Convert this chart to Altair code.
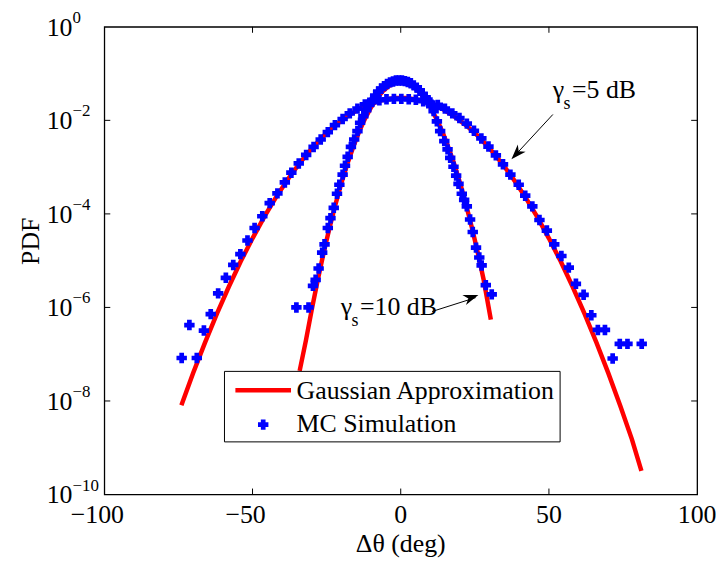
import altair as alt
import pandas as pd

# ---------------- data ----------------
gauss_5db_x = [-74, -70, -66, -62, -58, -54, -50, -46, -42, -38, -34, -30, -26, -22, -18, -14, -10, -6, -2,
               2, 6, 10, 14, 18, 22, 26, 30, 34, 38, 42, 46, 50, 54, 58, 62, 66, 70, 74, 78, 81.2]
gauss_5db_y = [8.1e-9, 4.0e-8, 1.79e-7, 7.4e-7, 2.77e-6, 9.6e-6, 3.0e-5, 8.7e-5, 2.31e-4, 5.6e-4,
               1.24e-3, 2.51e-3, 4.67e-3, 7.9e-3, 1.23e-2, 1.76e-2, 2.29e-2, 2.73e-2, 2.99e-2,
               2.99e-2, 2.73e-2, 2.29e-2, 1.76e-2, 1.23e-2, 7.9e-3, 4.67e-3, 2.51e-3, 1.24e-3, 5.6e-4,
               2.31e-4, 8.7e-5, 3.0e-5, 9.6e-6, 2.77e-6, 7.4e-7, 1.79e-7, 4.0e-8, 8.1e-9, 1.51e-9, 3.2e-10]

gauss_10db_x = [-34.1, -32, -30, -28, -26, -24, -22, -20, -18, -16, -14, -12, -10, -8, -6, -4, -2, 0,
                2, 4, 6, 8, 10, 12, 14, 16, 18, 20, 22, 24, 26, 28, 30.4]
gauss_10db_y = [4.4e-8, 1.95e-7, 9.1e-7, 3.86e-6, 1.48e-5, 5.1e-5, 1.61e-4, 4.6e-4, 1.18e-3, 2.74e-3,
                5.8e-3, 1.10e-2, 1.91e-2, 2.98e-2, 4.23e-2, 5.42e-2, 6.28e-2, 6.61e-2,
                6.28e-2, 5.42e-2, 4.23e-2, 2.98e-2, 1.91e-2, 1.10e-2, 5.8e-3, 2.74e-3, 1.18e-3, 4.6e-4,
                1.61e-4, 5.1e-5, 1.48e-5, 3.86e-6, 5.5e-7]

mc_5db_x = [-73.9, -71.3, -68.8, -66.4, -64.1, -61.6, -59.0, -56.5, -54.1, -51.7, -49.3, -46.7, -44.2,
            -41.6, -39.1, -36.9, -34.4, -31.9, -29.4, -27.0, -24.6, -22.2, -19.6, -17.2, -14.6, -12.1,
            -9.7, -7.2, -4.8, -2.3, 0.2, 2.7, 5.1, 7.6, 10.0, 12.5, 14.9, 17.4, 19.8, 22.3, 24.7, 27.2,
            29.6, 32.1, 34.5, 37.0, 39.8, 42.0, 44.4, 46.8, 49.3, 51.8, 54.2, 56.7, 59.1, 61.7, 64.3,
            66.5, 68.9, 71.5, 73.9, 76.5, 81.3]
mc_5db_y = [8.3e-8, 4.2e-7, 8.3e-8, 3.2e-7, 7.2e-7, 2.0e-6, 4.3e-6, 8.1e-6, 1.38e-5, 2.7e-5, 5.0e-5,
            8.9e-5, 1.70e-4, 2.75e-4, 4.7e-4, 7.6e-4, 1.20e-3, 1.82e-3, 2.7e-3, 3.9e-3, 5.6e-3, 7.9e-3,
            1.07e-2, 1.41e-2, 1.78e-2, 2.19e-2, 2.45e-2, 2.69e-2, 2.82e-2, 2.88e-2, 2.88e-2, 2.82e-2,
            2.75e-2, 2.57e-2, 2.40e-2, 2.14e-2, 1.78e-2, 1.41e-2, 1.12e-2, 8.5e-3, 6.0e-3, 4.1e-3,
            2.75e-3, 1.78e-3, 1.15e-3, 6.9e-4, 4.2e-4, 2.45e-4, 1.45e-4, 7.4e-5, 4.4e-5, 2.24e-5,
            1.26e-5, 7.1e-6, 3.2e-6, 1.86e-6, 6.8e-7, 3.3e-7, 3.3e-7, 8.1e-8, 1.66e-7, 1.66e-7, 1.66e-7]

mc_10db_x = [-35.2, -31.1, -29.6, -28.7, -27.7, -26.5, -25.7, -24.6, -23.7, -22.6, -21.5, -20.7, -19.6,
             -18.8, -17.9, -16.8, -15.7, -14.6, -13.7, -12.6, -11.6, -10.6, -9.6, -8.6, -7.6, -6.6,
             -5.6, -4.6, -3.6, -2.6, -1.6, -0.6, 0.4, 1.4, 2.4, 3.4, 4.4, 5.4, 6.4, 7.4, 8.4, 9.4, 10.3,
             11.1, 12.2, 13.3, 14.7, 15.8, 16.7, 17.8, 18.7, 19.5, 20.6, 21.4, 22.3, 23.4, 24.3, 25.4,
             26.5, 27.3, 28.7, 30.7]
mc_10db_y = [1.0e-6, 1.0e-6, 2.9e-6, 3.9e-6, 6.8e-6, 1.48e-5, 2.24e-5, 5.0e-5, 8.1e-5, 1.35e-4, 2.7e-4,
             4.2e-4, 6.9e-4, 1.07e-3, 1.66e-3, 2.7e-3, 3.9e-3, 5.9e-3, 8.9e-3, 1.23e-2, 1.66e-2,
             2.19e-2, 2.75e-2, 3.4e-2, 4.1e-2, 4.8e-2, 5.4e-2, 6.0e-2, 6.5e-2, 6.8e-2, 7.1e-2, 7.1e-2,
             7.1e-2, 6.9e-2, 6.6e-2, 6.2e-2, 5.6e-2, 5.0e-2, 4.4e-2, 3.7e-2, 3.1e-2, 2.5e-2, 2.0e-2,
             1.58e-2, 9.5e-3, 5.9e-3, 3.6e-3, 2.4e-3, 1.58e-3, 1.02e-3, 6.6e-4, 4.4e-4, 2.7e-4, 2.0e-4,
             1.45e-4, 7.6e-5, 4.1e-5, 1.9e-5, 1.17e-5, 7.9e-6, 3.0e-6, 1.9e-6]

x_tick_values = [-100, -50, 0, 50, 100]
x_tick_labels = ["\u2212100", "\u221250", "0", "50", "100"]
y_tick_values = [1, 1e-2, 1e-4, 1e-6, 1e-8, 1e-10]
y_tick_exponents = ["0", "\u22122", "\u22124", "\u22126", "\u22128", "\u221210"]

# ---------------- tables ----------------
curve_df = pd.concat([
    pd.DataFrame({"x": gauss_5db_x, "y": gauss_5db_y, "series": "5 dB", "i": range(len(gauss_5db_x))}),
    pd.DataFrame({"x": gauss_10db_x, "y": gauss_10db_y, "series": "10 dB", "i": range(len(gauss_10db_x))}),
])
mc_df = pd.concat([
    pd.DataFrame({"x": mc_5db_x, "y": mc_5db_y}),
    pd.DataFrame({"x": mc_10db_x, "y": mc_10db_y}),
])
xlab_df = pd.DataFrame({"v": x_tick_values, "label": x_tick_labels})
ylab_df = pd.DataFrame({"v": y_tick_values, "exp": y_tick_exponents})
one = pd.DataFrame({"k": [0]})

W, H = 597, 471
FS = 26
SERIF = "Liberation Serif, Times New Roman, serif"
xs = alt.Scale(domain=[-100, 100], nice=False, zero=False)
ys = alt.Scale(type="log", domain=[1e-10, 1], nice=False)
PLUS = "M-1,-0.45H-0.45V-1H0.45V-0.45H1V0.45H0.45V1H-0.45V0.45H-1Z"
ARROW = "M0,0L0.6,1.7L0,1.2L-0.6,1.7Z"

X = lambda f: alt.X(f, scale=xs, axis=None)
Y = lambda f: alt.Y(f, scale=ys, axis=None)

curves = alt.Chart(curve_df).mark_line(color="#FF0000", strokeWidth=4.5).encode(
    x=X("x:Q"), y=Y("y:Q"), detail="series:N", order=alt.Order("i:Q"))

points = alt.Chart(mc_df).mark_point(shape=PLUS, filled=True, size=110, color="#0000FF",
                                     opacity=1, strokeWidth=0).encode(x=X("x:Q"), y=Y("y:Q"))

inner_x = alt.Chart(xlab_df).transform_filter("abs(datum.v) < 100")
tick_xb = inner_x.mark_rule(color="black", strokeWidth=1).encode(
    x=X("v:Q"), y=alt.value(H), y2=alt.value(H - 6))
tick_xt = inner_x.mark_rule(color="black", strokeWidth=1).encode(
    x=X("v:Q"), y=alt.value(0), y2=alt.value(6))
inner_y = alt.Chart(ylab_df).transform_filter("datum.v < 0.5 && datum.v > 1e-9")
tick_yl = inner_y.mark_rule(color="black", strokeWidth=1).encode(
    y=Y("v:Q"), x=alt.value(0), x2=alt.value(6))
tick_yr = inner_y.mark_rule(color="black", strokeWidth=1).encode(
    y=Y("v:Q"), x=alt.value(W - 6), x2=alt.value(W))

# x tick labels: the number is centred on the tick, a leading minus sits to its left
xlabels_pos = alt.Chart(xlab_df).transform_filter("datum.v >= 0").mark_text(
    font=SERIF, fontSize=FS, baseline="alphabetic", align="center", color="black").encode(
    x=X("v:Q"), y=alt.value(H + 29), text="label:N")
xlabels_neg = alt.Chart(xlab_df).transform_filter("datum.v < 0").mark_text(
    font=SERIF, fontSize=FS, baseline="alphabetic", align="center", dx=-7, color="black").encode(
    x=X("v:Q"), y=alt.value(H + 29), text="label:N")
ylab10 = alt.Chart(ylab_df).mark_text(font=SERIF, fontSize=FS, baseline="alphabetic", align="left",
                                      dy=9, color="black", text="10").encode(
    x=alt.value(-58), y=Y("v:Q"))
ylabexp = alt.Chart(ylab_df).mark_text(font=SERIF, fontSize=17, baseline="alphabetic", align="left",
                                       dy=-4, color="black").encode(
    x=alt.value(-32), y=Y("v:Q"), text="exp:N")


def txt(s, x, y, size=FS, align="left", angle=0):
    return alt.Chart(one).mark_text(text=s, font=SERIF, fontSize=size, baseline="alphabetic",
                                    align=align, angle=angle, color="black").encode(
        x=alt.value(x), y=alt.value(y))


def rule(x1, y1, x2, y2, color="black", width=1):
    return alt.Chart(one).mark_rule(color=color, strokeWidth=width).encode(
        x=alt.value(x1), y=alt.value(y1), x2=alt.value(x2), y2=alt.value(y2))


def head(x, y, angle):
    return alt.Chart(one).mark_point(shape=ARROW, filled=True, size=320, color="black", opacity=1,
                                     strokeWidth=0, angle=angle).encode(x=alt.value(x), y=alt.value(y))


annotations = [
    txt("\u03b3", 451.7, 72), txt("s", 462.5, 83, size=18), txt("=5 dB", 471, 72),
    rule(451.7, 88.3, 412, 131.2), head(410, 133.3, 222.8),
    txt("\u03b3", 238, 290), txt("s", 249, 301, size=18), txt("=10 dB", 257.5, 290),
    rule(330, 286.7, 374, 272.7), head(376.7, 270, 70.3),
]

legend = [
    alt.Chart(one).mark_rect(fill="white", stroke="black", strokeWidth=1).encode(
        x=alt.value(121), x2=alt.value(459), y=alt.value(347), y2=alt.value(418)),
    rule(132, 366, 188, 366, color="#FF0000", width=4.5),
    alt.Chart(one).mark_point(shape=PLUS, filled=True, size=110, color="#0000FF", opacity=1,
                              strokeWidth=0).encode(x=alt.value(160), y=alt.value(400.6)),
    txt("Gaussian Approximation", 193.6, 374.7),
    txt("MC Simulation", 193.6, 408.4),
]

titles = [
    txt("\u0394\u03b8 (deg)", W / 2, 529, align="center"),
    txt("PDF", -66, 216, align="center", angle=270),
]

chart = alt.layer(
    curves, points, tick_xb, tick_xt, tick_yl, tick_yr, xlabels_pos, xlabels_neg, ylab10, ylabexp,
    *annotations, *legend, *titles
).properties(
    width=W, height=H,
    padding={"left": 97, "top": 17, "right": 19, "bottom": 64},
    autosize=alt.AutoSizeParams(type="none"),
).configure_view(stroke="black", strokeWidth=1.3)

chart.save("out.html", embed_options={"renderer": "svg", "actions": False})
